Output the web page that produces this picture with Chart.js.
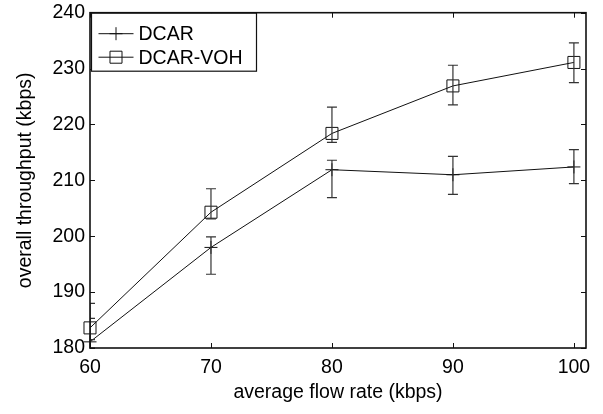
<!DOCTYPE html>
<html><head><meta charset="utf-8">
<script src="https://cdn.jsdelivr.net/npm/chart.js@4.4.0/dist/chart.umd.min.js"></script>
<style>html,body{margin:0;padding:0;background:#fff}#wrap{width:603px;height:414px}</style>
</head><body><div id="wrap"><canvas id="c" width="603" height="414"></canvas></div>
<script>
const flowRates = [60, 70, 80, 90, 100];
const dcar      = [181.1, 198.0, 211.9, 211.0, 212.4];
const dcarUpper = [185.3, 199.9, 213.6, 214.3, 215.5];
const dcarLower = [180.0, 193.2, 206.9, 207.5, 209.4];
const voh       = [183.6, 204.3, 218.4, 226.9, 231.1];
const vohUpper  = [188.0, 208.5, 223.1, 230.6, 234.6];
const vohLower  = [181.5, 203.1, 216.8, 223.5, 227.5];
const xTicks = [60, 70, 80, 90, 100];
const yTicks = [180, 190, 200, 210, 220, 230, 240];

const FONT = {family: '"Liberation Sans", Arial, sans-serif', size: 19.5};
const INK = '#111';

function pts(ys) { return flowRates.map((x, i) => ({x: x, y: ys[i]})); }

const errorBars = {
  id: 'errorBars',
  afterDatasetsDraw(chart) {
    const ctx = chart.ctx, xs = chart.scales.x, ys = chart.scales.y, ca = chart.chartArea;
    ctx.save();
    ctx.beginPath();
    ctx.rect(ca.left, ca.top, ca.right - ca.left, ca.bottom - ca.top);
    ctx.clip();
    ctx.strokeStyle = '#333';
    ctx.lineWidth = 1.2;
    chart.data.datasets.forEach(ds => {
      flowRates.forEach((x, i) => {
        const px = xs.getPixelForValue(x);
        const top = ys.getPixelForValue(ds.upper[i]);
        const bot = ys.getPixelForValue(ds.lower[i]);
        ctx.beginPath();
        ctx.moveTo(px, top); ctx.lineTo(px, bot);
        ctx.moveTo(px - 5, top); ctx.lineTo(px + 5, top);
        ctx.moveTo(px - 5, bot); ctx.lineTo(px + 5, bot);
        ctx.stroke();
      });
    });
    ctx.restore();
  }
};

const frameTicks = {
  id: 'frameTicks',
  afterDraw(chart) {
    const ctx = chart.ctx, xs = chart.scales.x, ys = chart.scales.y, ca = chart.chartArea;
    ctx.save();
    ctx.strokeStyle = INK;
    ctx.lineWidth = 1;
    ctx.beginPath();
    xTicks.forEach(v => {
      const p = Math.round(xs.getPixelForValue(v)) + 0.5;
      ctx.moveTo(p, ca.bottom); ctx.lineTo(p, ca.bottom - 5);
      ctx.moveTo(p, ca.top); ctx.lineTo(p, ca.top + 5);
    });
    yTicks.forEach(v => {
      const p = Math.round(ys.getPixelForValue(v)) + 0.5;
      ctx.moveTo(ca.left, p); ctx.lineTo(ca.left + 5, p);
      ctx.moveTo(ca.right, p); ctx.lineTo(ca.right - 5, p);
    });
    ctx.stroke();
    ctx.lineWidth = 1.6;
    ctx.strokeRect(ca.left, ca.top, ca.right - ca.left, ca.bottom - ca.top);

    // legend
    const lx = ca.left + 1.5, ly = ca.top + 0.5, lw = 165, lh = 58;
    ctx.fillStyle = '#fff';
    ctx.fillRect(lx, ly, lw, lh);
    ctx.lineWidth = 1.2;
    ctx.strokeRect(lx, ly, lw, lh);
    ctx.font = FONT.size + 'px ' + FONT.family;
    ctx.textBaseline = 'middle';
    ctx.textAlign = 'left';
    chart.data.datasets.forEach((ds, i) => {
      const cy = ly + 20.5 + i * 23.5;
      ctx.strokeStyle = INK;
      ctx.lineWidth = 1;
      ctx.beginPath();
      ctx.moveTo(lx + 7, cy); ctx.lineTo(lx + 42, cy);
      ctx.stroke();
      ctx.fillStyle = 'rgba(0,0,0,0)';
      Chart.helpers.drawPoint(ctx, {pointStyle: ds.pointStyle, radius: ds.pointRadius, borderWidth: 1}, lx + 24.5, cy);
      ctx.fillStyle = '#000';
      ctx.fillText(ds.label, lx + 47, cy + 1);
    });
    ctx.restore();
  }
};

new Chart(document.getElementById('c'), {
  type: 'line',
  data: {
    datasets: [
      {label: 'DCAR', data: pts(dcar), upper: dcarUpper, lower: dcarLower,
       borderColor: INK, borderWidth: 1, pointStyle: 'cross', pointRadius: 6.5,
       pointBorderColor: INK, pointBorderWidth: 1, pointBackgroundColor: 'rgba(0,0,0,0)',
       fill: false, tension: 0, clip: false},
      {label: 'DCAR-VOH', data: pts(voh), upper: vohUpper, lower: vohLower,
       borderColor: INK, borderWidth: 1, pointStyle: 'rect', pointRadius: 8.5,
       pointBorderColor: INK, pointBorderWidth: 1, pointBackgroundColor: 'rgba(0,0,0,0)',
       fill: false, tension: 0, clip: false}
    ]
  },
  options: {
    responsive: false,
    animation: false,
    devicePixelRatio: 1,
    layout: {padding: {left: 0, right: 17, top: 12.7, bottom: 0}},
    plugins: {legend: {display: false}, tooltip: {enabled: false}},
    elements: {point: {hoverRadius: 0}},
    scales: {
      x: {
        type: 'linear', min: 60, max: 101,
        afterBuildTicks: s => { s.ticks = xTicks.map(v => ({value: v})); },
        afterFit: s => { s.height = 66; s.paddingLeft = 0; s.paddingRight = 0; },
        grid: {display: false, drawTicks: false},
        border: {display: false},
        ticks: {font: FONT, color: '#000', padding: 8, maxRotation: 0, autoSkip: false},
        title: {display: true, text: 'average flow rate (kbps)', font: FONT, color: '#000', padding: {top: 0, bottom: 10}}
      },
      y: {
        type: 'linear', min: 180, max: 240,
        afterBuildTicks: s => { s.ticks = yTicks.map(v => ({value: v})); },
        afterFit: s => { s.width = 90; s.paddingTop = 0; s.paddingBottom = 0; },
        grid: {display: false, drawTicks: false},
        border: {display: false},
        ticks: {font: FONT, color: '#000', padding: 5, autoSkip: false},
        title: {display: true, text: 'overall throughput (kbps)', font: FONT, color: '#000', padding: {top: 14, bottom: 0}}
      }
    }
  },
  plugins: [errorBars, frameTicks]
});
</script></body></html>
